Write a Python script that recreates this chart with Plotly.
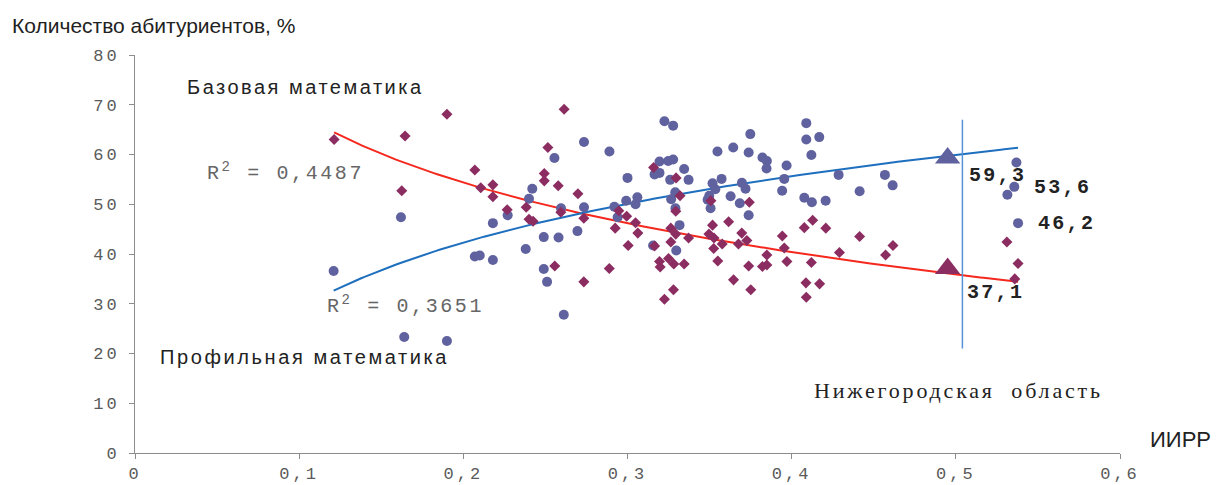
import numpy as np
import plotly.graph_objects as go

# Профильная математика (circles)
prof_x = [0.121, 0.162, 0.164, 0.190, 0.207, 0.210, 0.218, 0.218, 0.227, 0.242,
          0.240, 0.238, 0.249, 0.249, 0.251, 0.2555, 0.2595, 0.258, 0.2612, 0.2695,
          0.2735, 0.2735, 0.289, 0.292, 0.294, 0.2992, 0.300, 0.3049, 0.306, 0.3156,
          0.3165, 0.3195, 0.3195, 0.3225, 0.3248, 0.326, 0.3266, 0.3278, 0.3278, 0.3291,
          0.3292, 0.3297, 0.3317, 0.3345, 0.3372, 0.3488, 0.3498, 0.3506, 0.3518, 0.3535,
          0.3548, 0.3573, 0.3628, 0.3644, 0.3684, 0.3697, 0.3719, 0.3738, 0.3738, 0.3748,
          0.3822, 0.3849, 0.3847, 0.3942, 0.3955, 0.3969, 0.4077, 0.4089, 0.4089, 0.412,
          0.4123, 0.4168, 0.4207, 0.4286, 0.4414, 0.4568, 0.4615, 0.5314, 0.5356, 0.5369,
          0.5379]
prof_y = [36.6, 47.4, 23.3, 22.5, 39.5, 39.7, 38.8, 46.2, 47.8, 53.1,
          51.1, 41.0, 43.4, 37.0, 34.4, 59.3, 49.2, 43.3, 27.8, 44.6,
          62.5, 49.4, 60.6, 49.5, 47.4, 50.7, 55.3, 50.0, 51.4, 41.7,
          56.0, 56.3, 58.6, 66.7, 58.7, 54.9, 51.0, 59.0, 65.8, 52.4,
          49.2, 40.7, 45.8, 57.1, 54.9, 50.9, 51.7, 49.2, 54.2, 53.0,
          60.6, 55.1, 51.6, 61.4, 50.2, 54.3, 53.1, 60.4, 47.8, 64.1,
          59.4, 58.7, 57.2, 52.7, 55.1, 57.8, 51.3, 66.3, 63.0, 59.9,
          50.4, 63.5, 50.7, 55.9, 52.6, 55.9, 53.8, 51.9, 53.5, 58.4,
          46.2]

# Базовая математика (diamonds)
base_x = [0.1213, 0.1625, 0.1645, 0.190, 0.207, 0.2106, 0.218, 0.218, 0.2267, 0.2383,
          0.240, 0.2425, 0.2493, 0.2493, 0.2515, 0.2557, 0.2578, 0.2594, 0.2614, 0.2698,
          0.2734, 0.2734, 0.2889, 0.2925, 0.2947, 0.2995, 0.3004, 0.3049, 0.3063, 0.3159,
          0.3165, 0.3195, 0.3199, 0.3225, 0.325, 0.3264, 0.3264, 0.328, 0.3282, 0.3294,
          0.3294, 0.3296, 0.332, 0.3345, 0.3372, 0.3496, 0.3508, 0.3518, 0.3525, 0.3527,
          0.355, 0.3577, 0.3616, 0.3646, 0.3676, 0.3696, 0.3727, 0.3738, 0.3742, 0.3751,
          0.3822, 0.3849, 0.3849, 0.3943, 0.3955, 0.3971, 0.4077, 0.4087, 0.4089, 0.412,
          0.4128, 0.417, 0.4208, 0.4291, 0.4414, 0.4572, 0.4617, 0.5311, 0.5359, 0.5379]
base_y = [63.0, 52.7, 63.7, 68.1, 56.9, 53.3, 53.9, 51.5, 48.9, 49.4,
          47.0, 46.6, 56.2, 54.7, 61.4, 37.6, 53.7, 48.4, 69.1, 52.1,
          47.2, 34.4, 37.1, 45.2, 48.7, 47.6, 41.7, 46.3, 44.2, 57.4,
          41.6, 38.5, 37.4, 30.9, 39.1, 45.2, 42.4, 32.8, 38.0, 44.0,
          48.6, 55.3, 51.7, 38.0, 43.2, 44.0, 50.7, 45.8, 41.1, 43.2,
          38.6, 42.0, 46.5, 34.8, 42.0, 44.2, 42.7, 37.6, 50.4, 32.8,
          37.5, 37.8, 39.8, 43.6, 41.2, 38.5, 45.3, 34.2, 31.3, 38.3,
          46.8, 34.0, 45.2, 40.3, 43.5, 39.8, 41.7, 42.4, 35.0, 38.1]

# Нижегородская область
region_x = [0.495, 0.495]
region_y = [59.3, 37.1]
region_line_x = 0.504
region_line_y = [21, 67]
side_labels = ["53,6", "46,2"]
side_label_y = [53.6, 46.2]

x_ticks = [0, 0.1, 0.2, 0.3, 0.4, 0.5, 0.6]
x_ticktext = ["0", "0,1", "0,2", "0,3", "0,4", "0,5", "0,6"]
y_ticks = [0, 10, 20, 30, 40, 50, 60, 70, 80]

C_PROF = "#5F629E"
C_BASE = "#8C2D62"
C_PROF_LINE = "#1E6FBE"
C_BASE_LINE = "#F5281E"


def log_fit(xs, ys):
    xs = np.asarray(xs); ys = np.asarray(ys)
    b, a = np.polyfit(np.log(xs), ys, 1)
    gx = np.linspace(xs.min(), xs.max(), 200)
    return gx, a + b * np.log(gx)


def spaced(t, px):
    return f'<span style="letter-spacing:{px}px">{t}</span>'


fig = go.Figure()

fx, fy = log_fit(base_x, base_y)
fig.add_trace(go.Scatter(x=fx, y=fy, mode="lines", line=dict(color=C_BASE_LINE, width=2), hoverinfo="skip"))
fx, fy = log_fit(prof_x, prof_y)
fig.add_trace(go.Scatter(x=fx, y=fy, mode="lines", line=dict(color=C_PROF_LINE, width=2), hoverinfo="skip"))

fig.add_trace(go.Scatter(x=prof_x, y=prof_y, mode="markers",
                         marker=dict(symbol="circle", size=10, color=C_PROF, line=dict(width=0))))
fig.add_trace(go.Scatter(x=base_x, y=base_y, mode="markers",
                         marker=dict(symbol="diamond", size=8.5, color=C_BASE, line=dict(width=0))))

fig.add_trace(go.Scatter(x=[region_line_x, region_line_x], y=region_line_y, mode="lines",
                         line=dict(color="#5393D6", width=1.5)))
fig.add_trace(go.Scatter(x=region_x, y=region_y, mode="markers",
                         marker=dict(symbol="triangle-up", size=22, color=[C_PROF, C_BASE], line=dict(width=0))))

mono = "Liberation Mono"
ann = []
ann.append(dict(x=-0.127, y=1.075, xref="paper", yref="paper", xanchor="left", yanchor="middle",
                text="Количество абитуриентов, %", showarrow=False,
                font=dict(family="Liberation Sans", size=21, color="#222")))
ann.append(dict(x=1.0944, y=0.033, xref="paper", yref="paper", xanchor="right", yanchor="middle",
                text="ИИРР", showarrow=False,
                font=dict(family="Liberation Sans", size=22, color="#222")))
ann.append(dict(x=0.0305, y=73.6, xanchor="left", yanchor="middle", text=spaced("Базовая математика", 2.5),
                showarrow=False, font=dict(family="Liberation Sans", size=20, color="#222")))
ann.append(dict(x=0.014, y=19.3, xanchor="left", yanchor="middle", text=spaced("Профильная математика", 2.6),
                showarrow=False, font=dict(family="Liberation Sans", size=20, color="#222")))
ann.append(dict(x=0.0427, y=56.5, xanchor="left", yanchor="middle",
                text=spaced("R<sup>2</sup> = 0,4487", 2.6),
                showarrow=False, font=dict(family=mono, size=20, color="#666")))
ann.append(dict(x=0.1158, y=29.7, xanchor="left", yanchor="middle",
                text=spaced("R<sup>2</sup> = 0,3651", 2.6),
                showarrow=False, font=dict(family=mono, size=20, color="#666")))
ann.append(dict(x=0.4125, y=12.5, xanchor="left", yanchor="middle", text=spaced("Нижегородская  область", 2.8),
                showarrow=False, font=dict(family="Liberation Serif", size=22, color="#222")))
ann.append(dict(x=0.507, y=55.7, xanchor="left", yanchor="middle",
                text="<b>" + spaced(f"{region_y[0]:.1f}".replace(".", ","), 2.3) + "</b>",
                showarrow=False, font=dict(family=mono, size=20, color="#222")))
ann.append(dict(x=0.5058, y=32.2, xanchor="left", yanchor="middle",
                text="<b>" + spaced(f"{region_y[1]:.1f}".replace(".", ","), 2.3) + "</b>",
                showarrow=False, font=dict(family=mono, size=20, color="#222")))
ann.append(dict(x=0.5466, y=53.3, xanchor="left", yanchor="middle",
                text="<b>" + spaced(side_labels[0], 2.3) + "</b>",
                showarrow=False, font=dict(family=mono, size=20, color="#222")))
ann.append(dict(x=0.549, y=side_label_y[1], xanchor="left", yanchor="middle",
                text="<b>" + spaced(side_labels[1], 2.3) + "</b>",
                showarrow=False, font=dict(family=mono, size=20, color="#222")))

fig.update_layout(
    width=1216, height=485,
    margin=dict(l=135, r=96, t=55, b=32),
    paper_bgcolor="white", plot_bgcolor="white",
    showlegend=False,
    annotations=ann,
)
fig.update_xaxes(range=[0, 0.6], tickvals=x_ticks, ticktext=[spaced(t, 3) for t in x_ticktext],
                 showgrid=False, zeroline=False, automargin=False,
                 showline=True, linecolor="#8C8C8C", linewidth=1, ticks="outside", ticklen=5,
                 tickcolor="#8C8C8C", tickfont=dict(family=mono, size=17, color="#5A5A5A"))
fig.update_yaxes(range=[0, 80], tickvals=y_ticks, ticktext=[spaced(str(v), 3) for v in y_ticks],
                 showgrid=False, zeroline=False, automargin=False,
                 showline=True, linecolor="#8C8C8C", linewidth=1, ticks="outside", ticklen=5,
                 ticklabelstandoff=6,
                 tickcolor="#8C8C8C", tickfont=dict(family=mono, size=17, color="#5A5A5A"))

fig.write_html("out.html")
